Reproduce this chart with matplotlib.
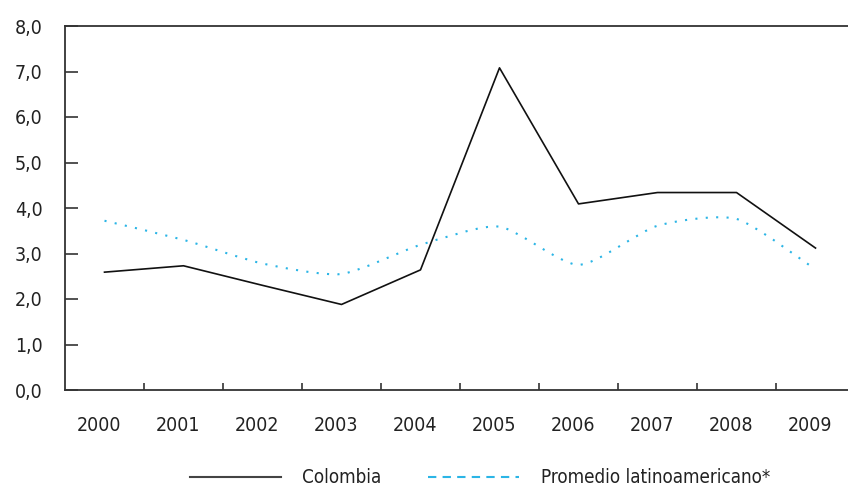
import numpy as np
import matplotlib
matplotlib.use("Agg")
import matplotlib.pyplot as plt
from matplotlib.path import Path
from matplotlib.patches import PathPatch
from matplotlib.lines import Line2D

plt.rcParams['font.family'] = ['DejaVu Sans']
plt.rcParams['font.stretch'] = 'condensed'

years = ['2000', '2001', '2002', '2003', '2004', '2005', '2006', '2007', '2008', '2009']
colombia = [2.59, 2.73, 2.30, 1.88, 2.64, 7.08, 4.09, 4.34, 4.34, 3.12]
promedio = [3.72, 3.30, 2.78, 2.55, 3.19, 3.59, 2.75, 3.61, 3.76, 2.65]
yticks = [0, 1, 2, 3, 4, 5, 6, 7, 8]

blue = '#2bb5e6'
dark = '#333333'

fig = plt.figure(figsize=(8.48, 4.91), dpi=100)
ax = fig.add_axes([65/848, 101/491, 790/848, 364/491])

x = np.arange(len(years))
ax.plot(x, colombia, color='#111111', lw=1.2)

# smooth dotted curve for the regional average (bezier through the points)
pts = np.column_stack([x, promedio]).astype(float)
ext = np.vstack([pts[0], pts, pts[-1]])
verts = [tuple(pts[0])]
codes = [Path.MOVETO]
for i in range(len(pts) - 1):
    p0, p1, p2, p3 = ext[i], ext[i+1], ext[i+2], ext[i+3]
    c1 = p1 + (p2 - p0) / 9
    c2 = p2 - (p3 - p1) / 9
    verts += [tuple(c1), tuple(c2), tuple(p2)]
    codes += [Path.CURVE4] * 3
ax.add_patch(PathPatch(Path(verts, codes), fill=False, edgecolor=blue,
                       lw=1.5, linestyle=(0, (1, 4))))

ax.set_xlim(-0.5, len(years) - 0.5)
ax.set_ylim(0, 8)
ax.set_yticks(yticks)
ax.set_yticklabels([f'{v:.1f}'.replace('.', ',') for v in yticks])
ax.set_xticks(x[:-1] + 0.5)
ax.set_xticklabels([])
ax.set_xticks(x - 0.07, minor=True)
ax.set_xticklabels(years, minor=True)

ax.tick_params(axis='y', direction='in', length=9, width=1.2, color=dark,
               labelsize=14, labelcolor='#222222', pad=16)
ax.tick_params(axis='x', which='major', direction='in', length=5, width=1.2, color=dark)
ax.tick_params(axis='x', which='minor', length=0, labelsize=14,
               labelcolor='#222222', pad=19)

for s in ['left', 'top', 'bottom', 'right']:
    ax.spines[s].set_color(dark)
    ax.spines[s].set_linewidth(1.3)

handles = [Line2D([], [], color='#444444', lw=1.5),
           Line2D([], [], color=blue, lw=1.5, linestyle=(0, (4, 3)))]
fig.legend(handles, ['Colombia', 'Promedio latinoamericano*'], ncol=2,
           loc='center', bbox_to_anchor=(0.566, 0.027), frameon=False,
           fontsize=13.5, handlelength=4.85, handletextpad=1.15, columnspacing=2.5,
           labelcolor='#222222')

fig.savefig('out.png', dpi=100)
